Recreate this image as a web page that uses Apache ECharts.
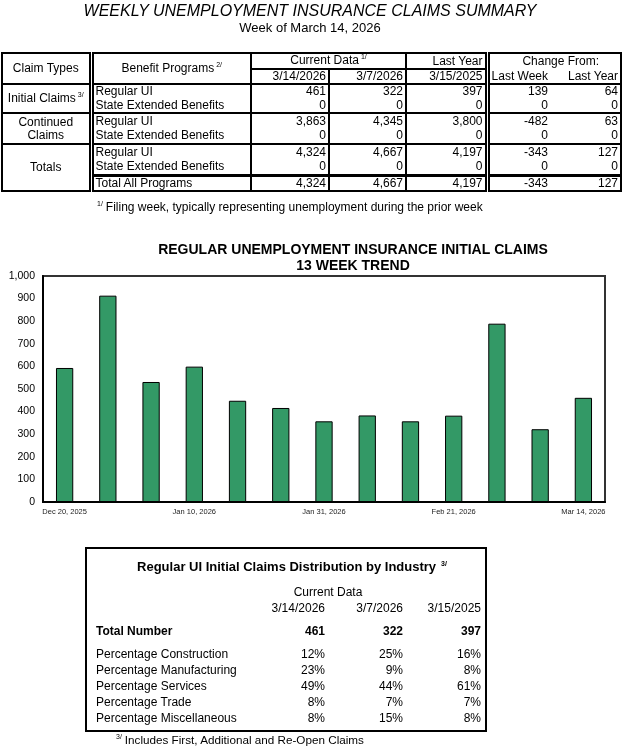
<!DOCTYPE html>
<html>
<head>
<meta charset="utf-8">
<script src="https://cdn.jsdelivr.net/npm/echarts@6/dist/echarts.min.js"></script>
<style>
body { margin: 0; background: #fff; color: #000; font-family: "Liberation Sans", Arial, sans-serif; }
#page { position: relative; width: 623px; height: 749px; overflow: hidden; }
#chart { position: absolute; left: 0; top: 0; width: 623px; height: 749px; }
.t { position: absolute; white-space: nowrap; }
.sup { font-size: 7px; position: relative; top: -5px; margin-left: 2px; }
table.sum { position: absolute; left: 1px; top: 52px; width: 619px; border-collapse: collapse; table-layout: fixed; font-size: 12px; line-height: 13px; border: 2px solid #000; }
table.sum td { padding: 0 2px; white-space: nowrap; overflow: hidden; }
table.sum td.c1 { border-right: 5px double #000; text-align: center; }
table.sum td.c2 { border-right: 2px solid #000; }
table.sum td.c3, table.sum td.c4 { border-right: 2px solid #000; text-align: right; }
table.sum td.c5 { border-right: 5px double #000; text-align: right; }
table.sum td.c6, table.sum td.c7 { text-align: right; }
table.sum tr.grp td { border-top: 2px solid #000; }
table.sum tr.all td { border-top: 3px solid #000; }
#box { position: absolute; left: 85px; top: 547px; width: 398px; height: 181px; border: 2.5px solid #000; }
</style>
</head>
<body>
<div id="page">
  <div id="chart"></div>
  <div id="overlay"></div>
</div>
<script>
// 周度表格数据
const dateHeads = ['3/14/2026', '3/7/2026', '3/15/2025']
const changeHeads = ['Last Week', 'Last Year']
const initialRegular = ['461', '322', '397', '139', '64']
const initialExtended = ['0', '0', '0', '0', '0']
const continuedRegular = ['3,863', '4,345', '3,800', '-482', '63']
const continuedExtended = ['0', '0', '0', '0', '0']
const totalRegular = ['4,324', '4,667', '4,197', '-343', '127']
const totalExtended = ['0', '0', '0', '0', '0']
const totalAll = ['4,324', '4,667', '4,197', '-343', '127']

// 13周趋势
const weekLabels = ['Dec 20, 2025', 'Dec 27, 2025', 'Jan 3, 2026', 'Jan 10, 2026', 'Jan 17, 2026', 'Jan 24, 2026',
  'Jan 31, 2026', 'Feb 7, 2026', 'Feb 14, 2026', 'Feb 21, 2026', 'Feb 28, 2026', 'Mar 7, 2026', 'Mar 14, 2026']
const initialClaims = [593, 913, 531, 599, 448, 416, 357, 383, 357, 382, 789, 322, 461]

// 行业分布
const industryTotals = ['461', '322', '397']
const industryLabels = ['Percentage Construction', 'Percentage Manufacturing', 'Percentage Services',
  'Percentage Trade', 'Percentage Miscellaneous']
const industryShares = [
  [12, 25, 16],
  [23, 9, 8],
  [49, 44, 61],
  [8, 7, 7],
  [8, 15, 8]
]

const overlay = document.getElementById('overlay')

// 放一段文字，y 为文字中线
const place = (html, x, y, align, style) => {
  const d = document.createElement('div')
  d.className = 't'
  d.innerHTML = html
  d.style.cssText = `top:${y - 8}px;line-height:16px;${style || ''}`
  if (align === 'right') d.style.right = (623 - x) + 'px'
  else if (align === 'center') { d.style.left = (x - 300) + 'px'; d.style.width = '600px'; d.style.textAlign = 'center' }
  else d.style.left = x + 'px'
  overlay.appendChild(d)
  return d
}

// 标题
place('WEEKLY UNEMPLOYMENT INSURANCE CLAIMS SUMMARY', 310, 11, 'center', 'font-size:16px;font-style:italic')
place('Week of March 14, 2026', 310, 28, 'center', 'font-size:13px')

// 汇总表
const valueCells = (vals) => vals.map((v, i) => `<td class="c${i + 3}">${v}</td>`).join('')
let html = `<table class="sum">
<colgroup><col style="width:89px"><col style="width:160px"><col style="width:78px"><col style="width:77px"><col style="width:81px"><col style="width:63px"><col style="width:71px"></colgroup>
<tr style="height:16px">
  <td class="c1" rowspan="2">Claim Types</td>
  <td class="c2" rowspan="2" style="text-align:center">Benefit Programs<span class="sup">2/</span></td>
  <td class="c4" colspan="2" style="text-align:center;border-bottom:2px solid #000">Current Data<span class="sup">1/</span></td>
  <td class="c5" style="border-bottom:2px solid #000">Last Year</td>
  <td colspan="2" style="text-align:center;padding-left:14px">Change From:</td>
</tr>
<tr style="height:14px">
  <td class="c3">${dateHeads[0]}</td><td class="c4">${dateHeads[1]}</td><td class="c5">${dateHeads[2]}</td>
  <td class="c6">${changeHeads[0]}</td><td class="c7">${changeHeads[1]}</td>
</tr>
<tr class="grp" style="height:14.5px">
  <td class="c1" rowspan="2">Initial Claims<span class="sup">3/</span></td>
  <td class="c2">Regular UI</td>${valueCells(initialRegular)}
</tr>
<tr style="height:14.5px"><td class="c2">State Extended Benefits</td>${valueCells(initialExtended)}</tr>
<tr class="grp" style="height:15.5px">
  <td class="c1" rowspan="2">Continued<br>Claims</td>
  <td class="c2">Regular UI</td>${valueCells(continuedRegular)}
</tr>
<tr style="height:15.5px"><td class="c2">State Extended Benefits</td>${valueCells(continuedExtended)}</tr>
<tr class="grp" style="height:16px">
  <td class="c1" rowspan="3">Totals</td>
  <td class="c2">Regular UI</td>${valueCells(totalRegular)}
</tr>
<tr style="height:15px"><td class="c2">State Extended Benefits</td>${valueCells(totalExtended)}</tr>
<tr class="all" style="height:14px"><td class="c2">Total All Programs</td>${valueCells(totalAll)}</tr>
</table>`
overlay.insertAdjacentHTML('beforeend', html)

place('<span class="sup" style="margin:0 3px 0 0">1/</span>Filing week, typically representing unemployment during the prior week', 97, 207, 'left', 'font-size:12px')

// 行业分布框
overlay.insertAdjacentHTML('beforeend', '<div id="box"></div>')
place('Regular UI Initial Claims Distribution by Industry<span class="sup" style="margin-left:5px">3/</span>', 292, 567, 'center', 'font-size:13px;font-weight:bold')
place('Current Data', 328, 592, 'center', 'font-size:12px')
const colRight = [325, 403, 481]
dateHeads.forEach((d, i) => place(d, colRight[i], 608, 'right', 'font-size:12px'))
place('Total Number', 96, 631, 'left', 'font-size:12px;font-weight:bold')
industryTotals.forEach((v, i) => place(v, colRight[i], 631, 'right', 'font-size:12px;font-weight:bold'))
industryLabels.forEach((lab, r) => {
  const y = 654 + r * 16
  place(lab, 96, y, 'left', 'font-size:12px')
  industryShares[r].forEach((v, i) => place(v + '%', colRight[i], y, 'right', 'font-size:12px'))
})
place('<span class="sup" style="margin:0 3px 0 0">3/</span>Includes First, Additional and Re-Open Claims', 116, 740, 'left', 'font-size:11.7px')

// 柱状图
const chart = echarts.init(document.getElementById('chart'))
chart.setOption({
  animation: false,
  title: {
    text: 'REGULAR UNEMPLOYMENT INSURANCE INITIAL CLAIMS\n13 WEEK TREND',
    left: 353,
    top: 242,
    padding: 0,
    textAlign: 'center',
    textStyle: {
      fontSize: 14,
      fontWeight: 'bold',
      color: '#000',
      lineHeight: 16,
      fontFamily: 'Liberation Sans'
    }
  },
  grid: {
    left: 43,
    right: 18,
    top: 276,
    bottom: 247,
    show: true,
    borderColor: '#333',
    borderWidth: 2
  },
  xAxis: {
    type: 'category',
    data: weekLabels,
    axisLine: { lineStyle: { color: '#000', width: 2 } },
    axisTick: { show: false },
    axisLabel: {
      interval: 2,
      fontSize: 7.5,
      color: '#222',
      margin: 6,
      fontFamily: 'Liberation Sans'
    }
  },
  yAxis: {
    type: 'value',
    min: 0,
    max: 1000,
    interval: 100,
    axisLine: { show: true, lineStyle: { color: '#000', width: 2 } },
    axisTick: { show: false },
    splitLine: { show: false },
    axisLabel: {
      fontSize: 10.5,
      color: '#000',
      margin: 8,
      fontFamily: 'Liberation Sans',
      formatter: (v) => v.toLocaleString('en-US')
    }
  },
  series: [
    {
      type: 'bar',
      data: initialClaims,
      barCategoryGap: '60%',
      itemStyle: {
        color: '#339966',
        borderColor: '#000',
        borderWidth: 1
      }
    }
  ]
})
</script>
</body>
</html>
